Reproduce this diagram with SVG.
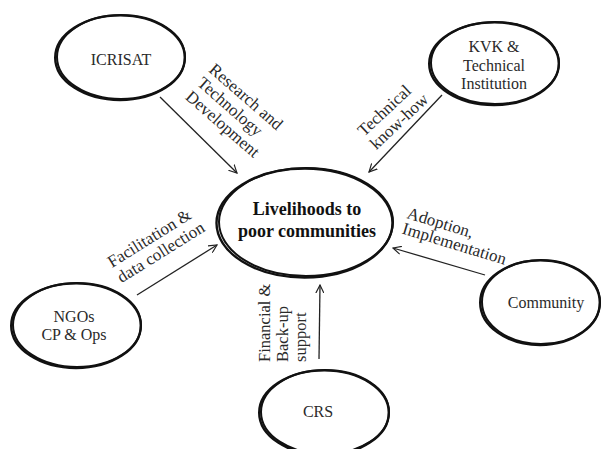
<svg xmlns="http://www.w3.org/2000/svg" width="602" height="449" viewBox="0 0 602 449">
<style>
.node{fill:#fff;stroke:#111;stroke-width:2}
.shade{fill:none;stroke:#111;stroke-width:2.4}
.t{font-family:"Liberation Serif","Times New Roman",serif;font-size:16px;fill:#2a2a2a}
.l{font-size:17px}
.v{font-size:16.5px}
.c{text-anchor:middle}
.b{font-weight:bold;font-size:18px;fill:#111}
.conn line{stroke:#222;stroke-width:1.3;marker-end:url(#ah)}
</style>
<defs>
<marker id="ah" viewBox="0 0 10 10" refX="9" refY="5" markerWidth="9" markerHeight="9" markerUnits="userSpaceOnUse" orient="auto">
<path d="M0,0.5 L9,5 L0,9.5" fill="none" stroke="#222" stroke-width="1.3"/>
</marker>
</defs>
<rect width="602" height="449" fill="#fff"/>
<g id="connectors" class="conn">
<line x1="160" y1="97" x2="237" y2="173"/>
<line x1="442" y1="95" x2="369" y2="172"/>
<line x1="137" y1="295" x2="217" y2="245"/>
<line x1="485" y1="275" x2="393" y2="248"/>
<line x1="319" y1="359" x2="320" y2="285"/>
</g>
<g id="labels">
<g class="t l" transform="translate(208,71) rotate(41)">
<text x="0" y="0">Research and</text>
<text x="0" y="18">Technology</text>
<text x="0" y="36">Development</text>
</g>
<g class="t l" transform="translate(364,137) rotate(-43)">
<text x="0" y="0">Technical</text>
<text x="0" y="18">know-how</text>
</g>
<g class="t l" transform="translate(112,268) rotate(-32)">
<text x="0" y="0">Facilitation &amp;</text>
<text x="0" y="18">data collection</text>
</g>
<g class="t l" transform="translate(406,218) rotate(17)">
<text x="0" y="0">Adoption,</text>
<text x="0" y="16">Implementation</text>
</g>
<g class="t v" transform="translate(270,362) rotate(-90)">
<text x="0" y="0">Financial &amp;</text>
<text x="0" y="18">Back-up</text>
<text x="0" y="36">support</text>
</g>
</g>
<g id="center">
<ellipse class="node" cx="306" cy="222" rx="87" ry="54"/>
<ellipse class="shade" cx="304.5" cy="223" rx="88" ry="54.5"/>
<text class="t c b" x="307" y="215">Livelihoods to</text>
<text class="t c b" x="307" y="237">poor communities</text>
</g>
<g id="icrisat">
<ellipse class="node" cx="121" cy="57" rx="64" ry="42"/>
<ellipse class="shade" cx="120" cy="57.7" rx="64.8" ry="42.3"/>
<text class="t c" x="121" y="65">ICRISAT</text>
</g>
<g id="kvk">
<ellipse class="node" cx="495" cy="63" rx="64" ry="41"/>
<ellipse class="shade" cx="494" cy="63.7" rx="64.8" ry="41.3"/>
<text class="t c" x="494" y="52">KVK &amp;</text>
<text class="t c" x="494" y="71">Technical</text>
<text class="t c" x="494" y="89">Institution</text>
</g>
<g id="ngos">
<ellipse class="node" cx="77" cy="325" rx="64" ry="42"/>
<ellipse class="shade" cx="76" cy="325.7" rx="64.8" ry="42.3"/>
<text class="t c" x="74" y="322">NGOs</text>
<text class="t c" x="74" y="340">CP &amp; Ops</text>
</g>
<g id="community">
<ellipse class="node" cx="541" cy="302" rx="59" ry="42"/>
<ellipse class="shade" cx="540" cy="302.7" rx="59.8" ry="42.3"/>
<text class="t c" x="546" y="308">Community</text>
</g>
<g id="crs">
<ellipse class="node" cx="325" cy="412" rx="64" ry="42"/>
<ellipse class="shade" cx="324" cy="412.7" rx="64.8" ry="42.3"/>
<text class="t c" x="318" y="417">CRS</text>
</g>
</svg>
